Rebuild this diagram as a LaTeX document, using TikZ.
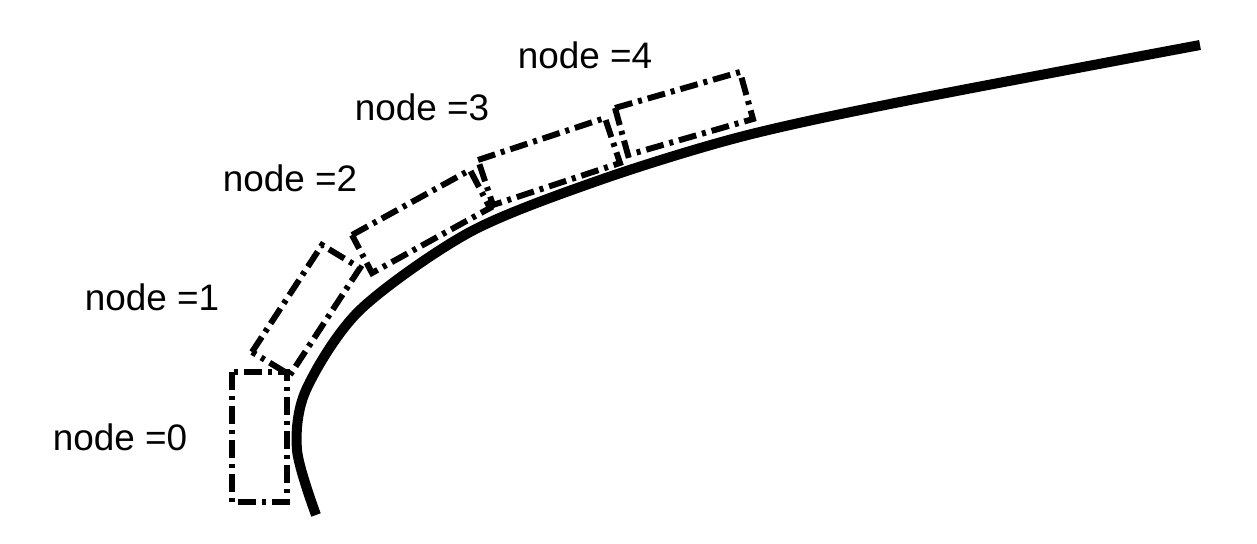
\documentclass[tikz,border=0pt]{standalone}
\usepackage{fontspec}
\setmainfont{Liberation Sans}
\tikzset{
	box/.style={line width=3.4pt, dash pattern=on 0.36cm off 0.12cm on 0.08cm off 0.12cm},
	lab/.style={font=\fontsize{21}{25}\selectfont, inner sep=0pt}
}
\begin{document}
\begin{tikzpicture}[x=0.02cm,y=-0.02cm]
	\useasboundingbox (0,0) rectangle (1257,544);
	\draw [line width=5.7pt] plot [smooth] coordinates {(316,515) (297,450) (306,390) (360,310) (470,232) (600,180) (740,137) (900,102) (1200,45)};
	\draw [box] (232,372) rectangle (287,502);
	\draw [box] (252,352)--(322,245)--(360,268)--(290,375)--cycle;
	\draw [box] (352,235)--(470,170)--(490,208)--(372,273)--cycle;
	\draw [box] (478,160)--(605,118)--(620,163)--(493,205)--cycle;
	\draw [box] (615,108)--(740,72)--(753,119)--(628,155)--cycle;
	\node [lab] (n0) at (120,437) {node =0};
	\node [lab] (n1) at (152,297) {node =1};
	\node [lab] (n2) at (290,178) {node =2};
	\node [lab] (n3) at (422,107) {node =3};
	\node [lab] (n4) at (585,55) {node =4};
\end{tikzpicture}
\end{document}
